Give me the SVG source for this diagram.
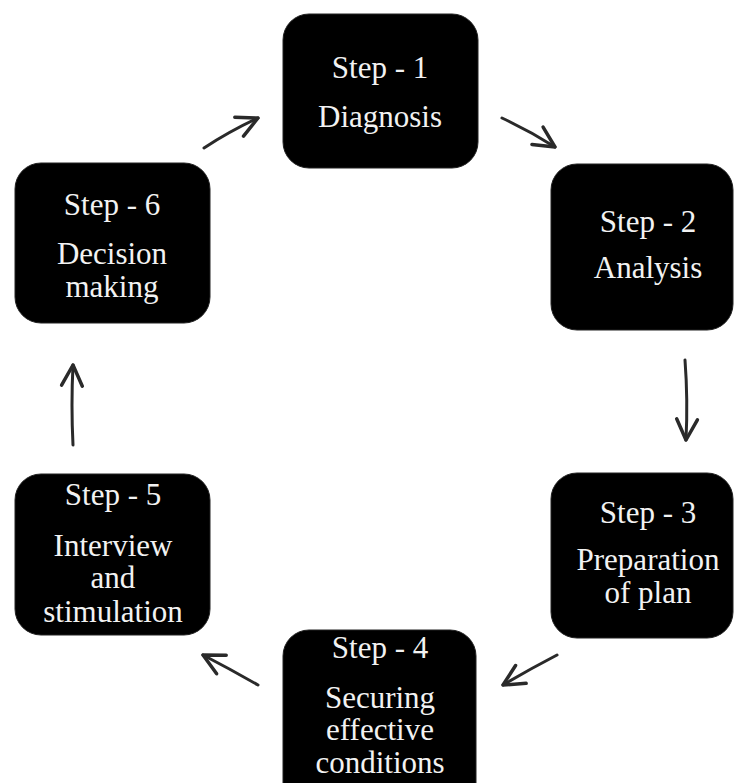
<svg xmlns="http://www.w3.org/2000/svg" width="734" height="783" viewBox="0 0 734 783">
<defs>
<style>
.box{fill:#000;stroke:#222;stroke-width:1}
.t{font-family:"Liberation Serif","Times New Roman",serif;font-size:31px;fill:#f2f2f2;text-anchor:middle}
.c{fill:none;stroke:#2a2a2a;stroke-width:3;stroke-linecap:round;stroke-linejoin:round}
</style>
<marker id="ah" markerUnits="userSpaceOnUse" markerWidth="30" markerHeight="30" viewBox="-22 -12 26 24" refX="0" refY="0" orient="auto">
<polyline points="-18,-9 0,0 -18,9" fill="none" stroke="#2a2a2a" stroke-width="3" stroke-linecap="round" stroke-linejoin="round"/>
</marker>
</defs>
<rect width="734" height="783" fill="#fff"/>
<g id="connectors">
<path class="c" d="M204,148 Q230,131 258,118" marker-end="url(#ah)"/>
<path class="c" d="M502,118 Q530,131 555,147" marker-end="url(#ah)"/>
<path class="c" d="M685,360 Q688,400 686,440" marker-end="url(#ah)"/>
<path class="c" d="M557,655 Q530,669 503,685" marker-end="url(#ah)"/>
<path class="c" d="M258,685 Q230,669 203,655" marker-end="url(#ah)"/>
<path class="c" d="M73,445 Q71,405 73,365" marker-end="url(#ah)"/>
</g>
<g id="step1">
<rect class="box" x="283" y="14" width="195" height="154" rx="26"/>
<text class="t" x="380" y="78">Step - 1</text>
<text class="t" x="380" y="127">Diagnosis</text>
</g>
<g id="step2">
<rect class="box" x="551" y="164" width="182" height="166" rx="26"/>
<text class="t" x="648" y="232">Step - 2</text>
<text class="t" x="648" y="278">Analysis</text>
</g>
<g id="step3">
<rect class="box" x="551" y="473" width="182" height="165" rx="26"/>
<text class="t" x="648" y="523">Step - 3</text>
<text class="t" x="648" y="570">Preparation</text>
<text class="t" x="648" y="603">of plan</text>
</g>
<g id="step4">
<rect class="box" x="283" y="630" width="193" height="180" rx="26"/>
<text class="t" x="380" y="658">Step - 4</text>
<text class="t" x="380" y="708">Securing</text>
<text class="t" x="380" y="740">effective</text>
<text class="t" x="380" y="773">conditions</text>
</g>
<g id="step5">
<rect class="box" x="15" y="474" width="195" height="161" rx="26"/>
<text class="t" x="113" y="505">Step - 5</text>
<text class="t" x="113" y="556">Interview</text>
<text class="t" x="113" y="588">and</text>
<text class="t" x="113" y="622">stimulation</text>
</g>
<g id="step6">
<rect class="box" x="15" y="163" width="195" height="160" rx="26"/>
<text class="t" x="112" y="215">Step - 6</text>
<text class="t" x="112" y="264">Decision</text>
<text class="t" x="112" y="297">making</text>
</g>
</svg>
